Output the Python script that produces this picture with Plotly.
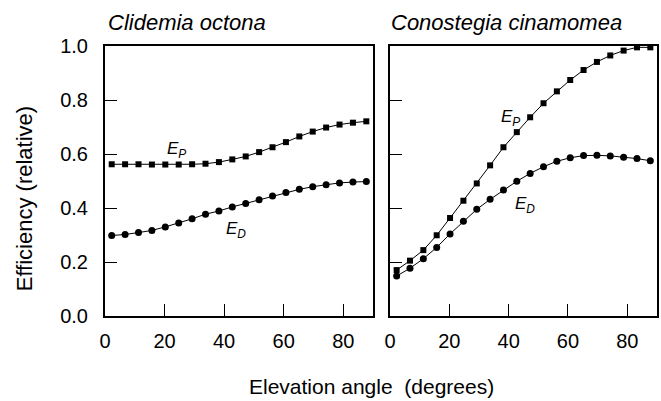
import plotly.graph_objects as go

angles = [2.25 + 4.5 * i for i in range(20)]

clidemia_ep = [0.562, 0.562, 0.562, 0.561, 0.561, 0.561, 0.562, 0.564, 0.570, 0.580,
               0.591, 0.607, 0.625, 0.644, 0.665, 0.683, 0.698, 0.709, 0.716, 0.721]
clidemia_ed = [0.298, 0.302, 0.309, 0.317, 0.330, 0.344, 0.360, 0.377, 0.389, 0.404,
               0.417, 0.431, 0.444, 0.457, 0.469, 0.479, 0.486, 0.493, 0.496, 0.498]
conostegia_ep = [0.170, 0.205, 0.244, 0.299, 0.363, 0.427, 0.491, 0.558, 0.625, 0.681,
                 0.736, 0.788, 0.832, 0.874, 0.911, 0.941, 0.965, 0.983, 0.995, 0.995]
conostegia_ed = [0.148, 0.177, 0.212, 0.254, 0.304, 0.351, 0.395, 0.432, 0.467, 0.499,
                 0.528, 0.553, 0.573, 0.586, 0.594, 0.595, 0.593, 0.588, 0.583, 0.575]

panel_titles = ["Clidemia octona", "Conostegia cinamomea"]
x_ticks = [0, 20, 40, 60, 80]
y_ticks = [0.0, 0.2, 0.4, 0.6, 0.8, 1.0]
y_ticklabels = ["0.0", "0.2", "0.4", "0.6", "0.8", "1.0"]

FONT = "Liberation Sans, Arial, Helvetica, sans-serif"

fig = go.Figure()

line_style = dict(color="black", width=1)
fig.add_trace(go.Scatter(x=angles, y=clidemia_ep, mode="lines+markers", line=line_style,
                         marker=dict(symbol="square", size=6, color="black"),
                         xaxis="x", yaxis="y", showlegend=False))
fig.add_trace(go.Scatter(x=angles, y=clidemia_ed, mode="lines+markers", line=line_style,
                         marker=dict(symbol="circle", size=7, color="black"),
                         xaxis="x", yaxis="y", showlegend=False))
fig.add_trace(go.Scatter(x=angles, y=conostegia_ep, mode="lines+markers", line=line_style,
                         marker=dict(symbol="square", size=6, color="black"),
                         xaxis="x2", yaxis="y2", showlegend=False))
fig.add_trace(go.Scatter(x=angles, y=conostegia_ed, mode="lines+markers", line=line_style,
                         marker=dict(symbol="circle", size=7, color="black"),
                         xaxis="x2", yaxis="y2", showlegend=False))

W, H = 661, 401
ml, mr, mt, mb = 105, 2, 46, 85
pw = W - ml - mr
ph = H - mt - mb
d1 = [0, (374 - ml) / pw]
d2 = [(391 - ml) / pw, 1]

tick_font = dict(family=FONT, size=20, color="black")
common_x = dict(range=[0, 90], tickvals=x_ticks, ticks="inside", ticklen=12, tickwidth=1,
                tickcolor="black", showline=True, linecolor="black", linewidth=2,
                mirror=True, showgrid=False, zeroline=False, ticklabelstandoff=6,
                tickfont=tick_font)
common_y = dict(range=[0, 1], tickvals=y_ticks, ticktext=y_ticklabels, ticks="inside",
                ticklen=12, tickwidth=1, tickcolor="black", showline=True,
                linecolor="black", linewidth=2, mirror=True, showgrid=False,
                zeroline=False, tickfont=tick_font)

fig.update_layout(
    width=W, height=H,
    margin=dict(l=ml, r=mr, t=mt, b=mb),
    paper_bgcolor="white", plot_bgcolor="white",
    xaxis=dict(domain=d1, anchor="y", **common_x),
    xaxis2=dict(domain=d2, anchor="y2", **common_x),
    yaxis=dict(domain=[0, 1], anchor="x", ticklabelstandoff=11, **common_y),
    yaxis2=dict(domain=[0, 1], anchor="x2", showticklabels=False, **common_y),
)


def py(pixel_y):
    return (H - mb - pixel_y) / ph


def px(pixel_x):
    return (pixel_x - ml) / pw


title_font = dict(family=FONT, size=22, color="black")
fig.add_annotation(text="<i>" + panel_titles[0] + "</i>", xref="paper", yref="paper",
                   x=px(106), y=py(23), xanchor="left", yanchor="middle",
                   showarrow=False, font=title_font)
fig.add_annotation(text="<i>" + panel_titles[1] + "</i>", xref="paper", yref="paper",
                   x=px(390), y=py(23), xanchor="left", yanchor="middle",
                   showarrow=False, font=title_font)

lab_font = dict(family=FONT, size=17, color="black")
fig.add_annotation(text="<i>E<sub>P</sub></i>", x=24, y=0.615, xref="x", yref="y",
                   showarrow=False, font=lab_font)
fig.add_annotation(text="<i>E<sub>D</sub></i>", x=44, y=0.32, xref="x", yref="y",
                   showarrow=False, font=lab_font)
fig.add_annotation(text="<i>E<sub>P</sub></i>", x=40.5, y=0.735, xref="x2", yref="y2",
                   showarrow=False, font=lab_font)
fig.add_annotation(text="<i>E<sub>D</sub></i>", x=45.5, y=0.41, xref="x2", yref="y2",
                   showarrow=False, font=lab_font)

fig.add_annotation(text="Elevation angle  (degrees)", xref="paper", yref="paper",
                   x=px(372), y=py(386), xanchor="center", yanchor="middle",
                   showarrow=False, font=dict(family=FONT, size=21, color="black"))
fig.add_annotation(text="Efficiency (relative)", xref="paper", yref="paper",
                   x=px(24), y=py(199), xanchor="center", yanchor="middle", textangle=-90,
                   showarrow=False, font=dict(family=FONT, size=22, color="black"))

fig.write_html("out.html", config={"displayModeBar": False},
               post_script="document.body.style.margin='0';document.body.style.padding='0';")
